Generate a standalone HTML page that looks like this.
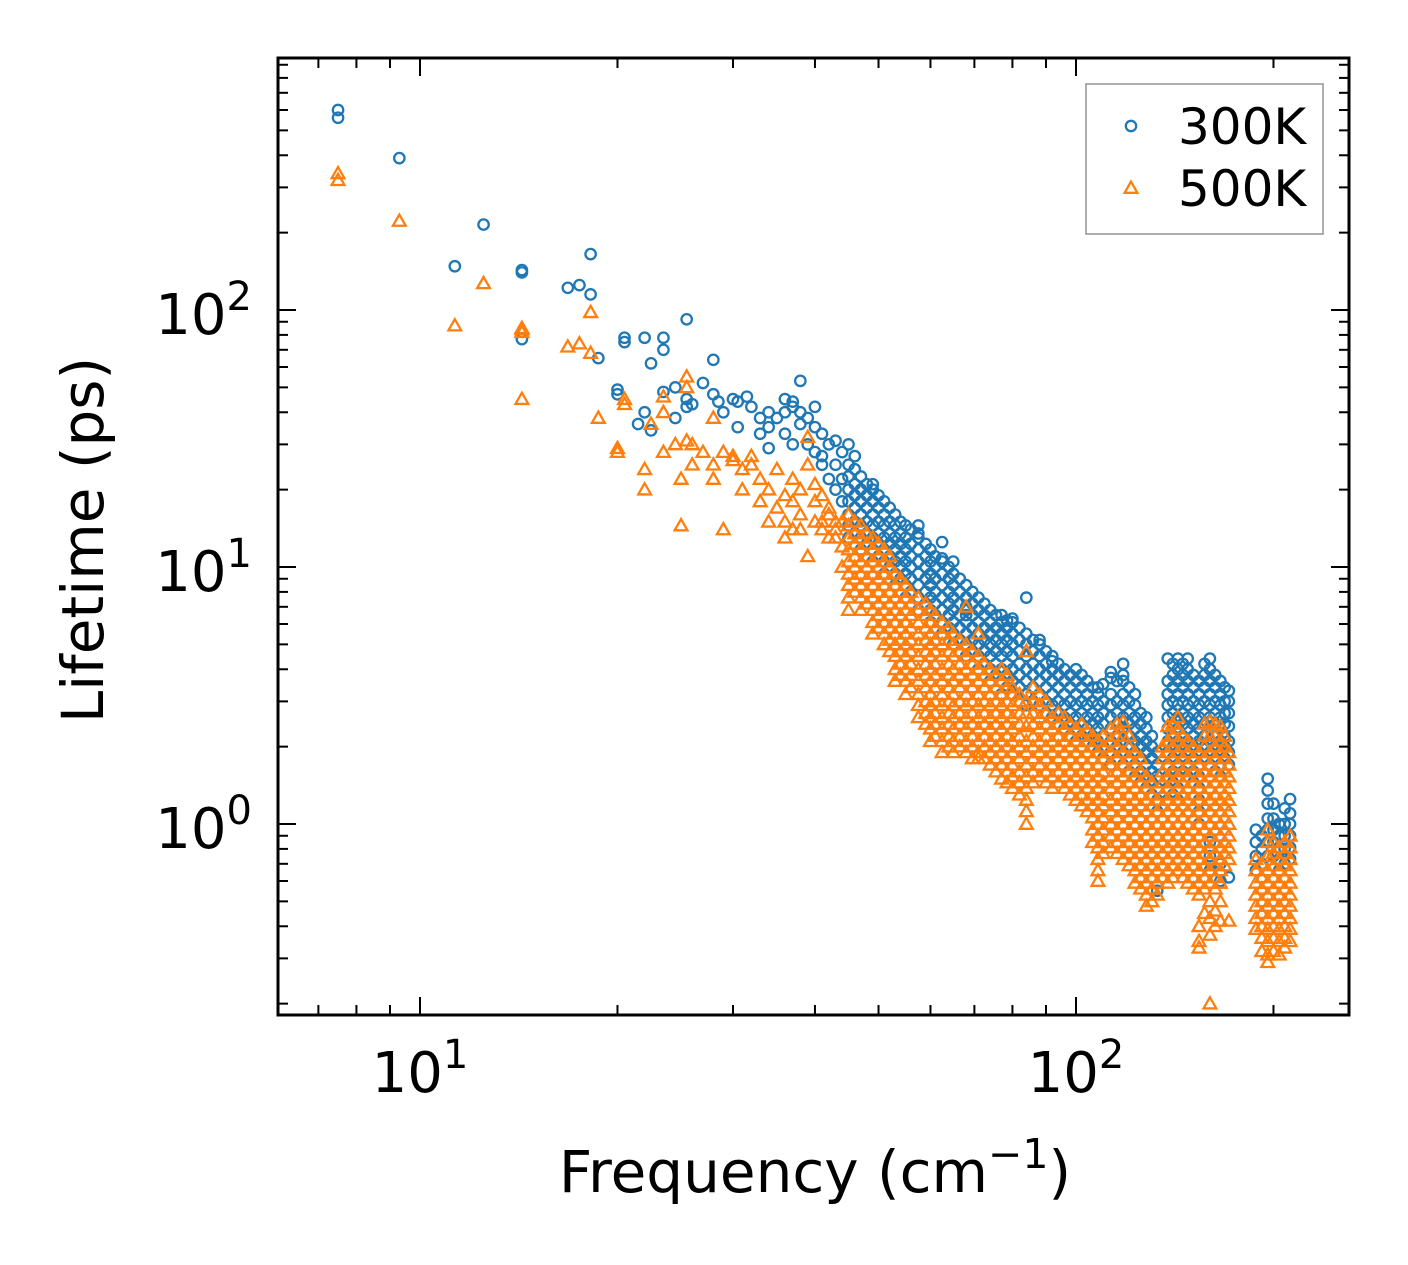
<!DOCTYPE html>
<html><head><meta charset="utf-8">
<style>
html,body{margin:0;padding:0;background:#fff;}
svg{display:block;}
text{font-family:"DejaVu Sans","Liberation Sans",sans-serif;fill:#000;}
</style></head>
<body>
<svg id="chart" width="1408" height="1265" viewBox="0 0 1408 1265" xmlns="http://www.w3.org/2000/svg">
<rect x="0" y="0" width="1408" height="1265" fill="#fff"/>
<g id="marks"></g>
<g id="axes"></g>
</svg>
<script>
const xMajorTicks = [10, 100];
const xMajorLabels = ["1", "2"];
const yMajorTicks = [1, 10, 100];
const yMajorLabels = ["0", "1", "2"];
const seriesNames = ["300K", "500K"];

const blueCols = [
[7.5,[600,560]],[9.3,[390]],[11.3,[148]],[12.5,[215]],[14.3,[140,143,77]],
[16.8,[122]],[17.5,[125]],[18.2,[165,115]],[18.7,[65]],[20,[47,49]],[20.5,[78,75]],
[21.5,[36]],[22,[78,40]],[22.5,[34,62]],[23.5,[48,70,78]],[24.5,[50,38]],[25.5,[92,45,42]],
[26,[43]],[27,[52]],[28,[64,47]],[28.5,[44]],[29,[40]],[30,[45]],[30.5,[35,44]],[31.5,[46]],
[32,[42]],[33,[38,33]],[34,[40,35,29]],[35,[38]],[36,[45,33,40]],[37,[42,44,30]],
[38,[53,36,40]],[39,[38,30]],[40,[42,35,28]],[41,[33,27,25]],[42,[30,22]],[43,[31,25,20]],
[44,[28,22,18]],
[45,[30,25,22.5,20,18,16,14.5,13]],[46,[27,24,21,19,17,15,13.5]],[47,[22.5,20,18,16,14.5,13,11.7]],
[48,[21,19,17,15,13.5,12.3]],
[49,[21,20,18,16,14.5,13,11.7,10.5]],[50,[19,17,15,13.5,12.3,11]],[51,[18,16,14.5,13,11.7,10.5,9.4]],
[52,[17,15,13.5,12.3,11,10]],
[53,[16,14.5,13,11.7,10.5,9.4,8.5]],[54,[15,13.5,12.3,11,10,9]],[55,[14.5,13,11.7,10.5,9.4,8.5,7.6]],
[56,[14,12.3,11,10,9,8]],
[57.5,[14.5,13.5,13,11.7,10.5,9.4,8.5,7.6,6.8]],[59,[12.3,11,10,9,8,7.2]],[60,[11.7,10.5,9.4,8.5,7.6,6.8,6.1]],
[61,[11,10,9,8,7.2,6.5]],
[62.5,[12.5,10.8,10.5,9.4,8.5,7.6,6.8,6.1,5.5]],[64,[10,9,8,7.2,6.5,5.8]],[65,[10.5,9.4,8.5,7.6,6.8,6.1,5.5,5]],
[66.5,[9,8,7.2,6.5,5.8,5.2]],
[68,[8.5,7.6,7,6.8,6.5,6.1,5.5,5,4.5]],[69.5,[8,7.2,6.5,5.8,5.2,4.7]],[71,[7.6,6.8,6.1,5.5,5,4.5,4]],
[72.5,[7.2,6.5,5.8,5.2,4.7,4.2]],
[74,[6.8,6.1,5.5,5,4.5,4,3.6]],[75.5,[6.5,5.8,5.2,4.7,4.2,3.8]],[77,[6.5,6.1,5.5,5,4.5,4,3.6,3.2]],
[78.5,[6.2,5.8,5.2,4.7,4.2,3.8,3.4]],
[80,[6.3,6.1,5.5,5,4.5,4,3.6,3.2]],[82,[5.8,5.2,4.7,4.2,3.8,3.4]],[84,[7.6,5.5,5,4.5,4,3.6,3.2,2.9]],
[86,[5.2,4.7,4.2,3.8,3.4,3.0]],
[88,[5.2,5,4.5,4,3.6,3.2,2.9]],[90,[4.7,4.2,3.8,3.4,3.0,2.7]],[92,[4.5,4.3,4,3.6,3.2,2.9,2.6]],
[94,[4.2,3.8,3.4,3.0,2.7,2.45]],
[96,[4,3.6,3.2,2.9,2.6,2.35]],[98,[3.8,3.4,3.0,2.7,2.45,2.2]],[100,[4,3.6,3.2,2.9,2.6,2.35,2.1]],
[102,[3.8,3.4,3.0,2.7,2.45,2.2]],
[104,[3.6,3.2,2.9,2.6,2.35,2.1]],[106,[3.4,3.0,2.7,2.45,2.2,2.0]],[108,[3.4,3.2,2.9,2.6,2.35,2.1,1.9]],
[110,[3.5,3.0,2.7,2.45,2.2,2.0,1.8]],
[113,[3.9,3.7,3.2,2.9,2.6,2.35,2.1,1.9,1.7]],[115.5,[3.6,3.0,2.7,2.45,2.2,2.0,1.8]],[118,[4.2,3.8,3.6,3.2,2.9,2.6,2.35,2.1,1.9,1.7]],
[120.5,[3.4,3.0,2.7,2.45,2.2,2.0,1.8,1.6]],
[123,[3.2,2.9,2.6,2.35,2.1,1.9,1.7,1.53]],[125.5,[2.7,2.45,2.2,2.0,1.8,1.6,1.45]],[128,[2.6,2.35,2.1,1.9,1.7,1.53,1.38]],
[130.5,[2.2,2.0,1.8,1.6,1.45,1.3]],
[133,[1.9,1.7,1.53,1.38,1.24,1.12,0.55]],
[138,[4.4,3.6,3.2,2.9,2.6,2.35,2.1,1.9,1.7,1.53,1.38,1.24]],
[140.5,[4.2,3.8,3.4,3.0,2.7,2.45,2.2,2.0,1.8,1.6,1.45,1.3]],
[143,[4.4,4,3.6,3.2,2.9,2.6,2.35,2.1,1.9,1.7,1.53,1.38,1.24]],
[145.5,[4.2,3.8,3.4,3.0,2.7,2.45,2.2,2.0,1.8,1.6]],
[148,[4.4,4,3.6,3.2,2.9,2.6,2.35,2.1,1.9,1.7,1.53]],
[151,[3.8,3.4,3.0,2.7,2.45,2.2,2.0,1.8,1.6,1.45]],
[154,[3.6,3.2,2.9,2.6,2.35,2.1,1.9,1.7,1.53,1.38,1.24,1.12,1.0]],
[157,[4.2,3.8,3.4,3.0,2.7,2.45,2.2,2.0,1.8]],
[160,[4.4,4,3.6,3.2,2.9,2.6,2.35,2.1,1.9,1.7,0.85,0.75,0.66]],
[163,[3.8,3.4,3.0,2.7,2.45,2.2,2.0,1.8,1.6]],
[166,[3.6,3.2,2.9,2.6,2.35,2.1,1.9,1.7,1.53,0.7,0.6]],
[168.5,[3.4,3.0,2.7,2.45,2.2,2.0,1.8]],
[171,[3.3,3.0,2.7,2.4,2.1,1.9,1.7,0.62]],
[188,[0.95,0.85,0.75,0.66]],[192,[0.9,0.8,0.7]],[196,[1.5,1.35,1.2,1.05,0.95,0.85,0.75]],
[200,[1.2,1.05,0.95,0.85,0.75]],
[204,[1.0,0.9,0.81,0.73,0.66]],[208,[1.15,1.0,0.9,0.8,0.7]],[212,[1.25,1.1,1.0,0.9,0.81,0.73]]
];

const orangeCols = [
[7.5,[340,320]],[9.3,[222]],[11.3,[87]],[12.5,[127]],[14.3,[85,82,84,45]],
[16.8,[72]],[17.5,[74]],[18.2,[98,68]],[18.7,[38]],[20,[28,29]],[20.5,[45,43]],
[22,[24,20]],[22.5,[36]],[23.5,[46,40,28]],[24.5,[30]],[25,[22,14.5]],[25.5,[55,50,31]],
[26,[30,25]],[27,[28]],[28,[38,25,22]],[29,[28,14]],[30,[27,26]],[31,[24,20]],
[32,[25,27]],[33,[22,18]],[34,[20,15]],[35,[17,24]],[36,[19,13,15]],[37,[22,18,14]],
[38,[20,14,16]],[39,[25,11,32]],[40,[21,18,15]],[41,[19,15,14]],[42,[17,13,16]],
[43,[15,14,13]],[44,[15,12,10]],
[45,[16,14.5,13,11.7,10.5,9.4,8.5,7.6,6.8]],[46,[15,13.5,12.3,11,10,9,8]],[47,[14.5,13,11.7,10.5,9.4,8.5,7.6,6.8]],
[48,[13.5,12.3,11,10,9,8,7.2]],
[49,[13,11.7,10.5,9.4,8.5,7.6,6.8,6.1,5.5]],[50,[12.3,11,10,9,8,7.2,6.5,5.8]],[51,[11.7,10.5,9.4,8.5,7.6,6.8,6.1,5.5,5]],
[52,[11,10,9,8,7.2,6.5,5.8,5.2,4.7]],
[53,[9.4,8.5,7.6,6.8,6.1,5.5,5,4.5,4,3.6]],[54,[9,8,7.2,6.5,5.8,5.2,4.7,4.2,3.8]],[55,[8.5,7.6,6.8,6.1,5.5,5,4.5,4,3.6,3.2]],
[56,[8,7.2,6.5,5.8,5.2,4.7,4.2,3.8,3.4]],
[57.5,[7.6,6.8,6.1,5.5,5,4.5,4,3.6,3.2,2.9,2.6]],
[59,[7.2,6.5,5.8,5.2,4.7,4.2,3.8,3.4,3.0,2.7,2.45]],
[60,[6.8,6.1,5.5,5,4.5,4,3.6,3.2,2.9,2.6,2.35,2.1]],
[61,[6.5,5.8,5.2,4.7,4.2,3.8,3.4,3.0,2.7,2.45,2.2]],
[62.5,[6.1,5.5,5,4.5,4,3.6,3.2,2.9,2.6,2.35,2.1,1.9]],
[64,[5.8,5.2,4.7,4.2,3.8,3.4,3.0,2.7,2.45,2.2,2.0]],
[65,[5.5,5,4.5,4,3.6,3.2,2.9,2.6,2.35,2.1,1.9]],
[66.5,[5.2,4.7,4.2,3.8,3.4,3.0,2.7,2.45,2.2,2.0]],
[68,[7,5,4.5,4,3.6,3.2,2.9,2.6,2.35,2.1,1.9]],
[69.5,[4.7,4.2,3.8,3.4,3.0,2.7,2.45,2.2,2.0,1.8]],
[71,[5.5,4.5,4,3.6,3.2,2.9,2.6,2.35,2.1,1.9,1.8]],
[72.5,[4.2,3.8,3.4,3.0,2.7,2.45,2.2,2.0,1.8]],
[74,[4,3.6,3.2,2.9,2.6,2.35,2.1,1.9,1.7]],
[75.5,[3.8,3.4,3.0,2.7,2.45,2.2,2.0,1.8,1.6]],
[77,[4,3.6,3.2,2.9,2.6,2.35,2.1,1.9,1.7,1.5]],
[78.5,[3.8,3.4,3.0,2.7,2.45,2.2,2.0,1.8,1.6,1.45]],
[80,[3.4,3.2,2.9,2.6,2.35,2.1,1.9,1.7,1.53,1.38]],
[82,[3.2,3.0,2.7,2.45,2.2,2.0,1.8,1.6,1.45,1.3]],
[84,[4.7,3.0,2.7,2.4,2.1,1.9,1.7,1.53,1.38,1.24,1.12,1.0]],
[86,[3.4,3.0,2.7,2.45,2.2,2.0,1.8,1.6,1.45]],
[88,[3.2,2.9,2.6,2.35,2.1,1.9,1.7,1.53]],[90,[3.0,2.7,2.45,2.2,2.0,1.8,1.6,1.45]],
[92,[2.6,2.35,2.1,1.9,1.7,1.53,1.38]],[94,[2.7,2.45,2.2,2.0,1.8,1.6,1.45]],
[96,[2.6,2.35,2.1,1.9,1.7,1.53,1.38]],[98,[2.45,2.2,2.0,1.8,1.6,1.45,1.3]],
[100,[2.35,2.1,1.9,1.7,1.53,1.38,1.24]],[102,[2.45,2.2,2.0,1.8,1.6,1.45,1.3,1.18]],
[104,[2.3,2.1,1.9,1.7,1.53,1.38,1.24,1.12]],[106,[2.2,2.0,1.8,1.6,1.45,1.3,1.18,1.06,0.95,0.85]],
[108,[2.1,1.9,1.7,1.53,1.38,1.24,1.12,1.0,0.9,0.81,0.73,0.66,0.6]],
[110,[2.2,2.0,1.8,1.6,1.45,1.3,1.18,1.06,0.95,0.85,0.77]],
[113,[2.35,2.1,1.9,1.7,1.53,1.38,1.24,1.12,1.0,0.9,0.81]],
[115.5,[2.45,2.2,2.0,1.8,1.6,1.45,1.3,1.18,1.06,0.95,0.85,0.77]],
[118,[2.5,2.2,1.9,1.7,1.53,1.38,1.24,1.12,1.0,0.9,0.81,0.73]],
[120.5,[2.2,2.0,1.8,1.6,1.45,1.3,1.18,1.06,0.95,0.85,0.77,0.69]],
[123,[1.9,1.7,1.53,1.38,1.24,1.12,1.0,0.9,0.81,0.73,0.66,0.59]],
[125.5,[1.8,1.6,1.45,1.3,1.18,1.06,0.95,0.85,0.77,0.69,0.62,0.56]],
[128,[1.53,1.38,1.24,1.12,1.0,0.9,0.81,0.73,0.66,0.59,0.53,0.48]],
[130.5,[1.45,1.3,1.18,1.06,0.95,0.85,0.77,0.69,0.62,0.56,0.5]],
[133,[1.24,1.12,1.0,0.9,0.81,0.73,0.66,0.59,0.53]],
[135.5,[2.0,1.8,1.6,1.45,1.3,1.18,1.06,0.95,0.85,0.77,0.69,0.62]],
[138,[2.4,2.1,1.9,1.7,1.53,1.38,1.24,1.12,1.0,0.9,0.81,0.73,0.66,0.59]],
[140.5,[2.45,2.2,2.0,1.8,1.6,1.45,1.3,1.18,1.06,0.95,0.85,0.77,0.69,0.62]],
[143,[2.6,2.35,2.1,1.9,1.7,1.53,1.38,1.24,1.12,1.0,0.9,0.81,0.73,0.66]],
[145.5,[2.2,2.0,1.8,1.6,1.45,1.3,1.18,1.06,0.95,0.85,0.77,0.69,0.62]],
[148,[2.1,1.9,1.7,1.53,1.38,1.24,1.12,1.0,0.9,0.81,0.73,0.66,0.59]],
[151,[2.0,1.8,1.6,1.45,1.3,1.18,1.06,0.95,0.85,0.77,0.69,0.62,0.56]],
[154,[1.9,1.7,1.53,1.38,1.24,1.12,1.0,0.9,0.81,0.73,0.66,0.59,0.53,0.4,0.35,0.33]],
[157,[2.45,2.2,2.0,1.8,1.6,1.45,1.3,1.18,1.06,0.95,0.85,0.77,0.69,0.62,0.56,0.45]],
[160,[2.5,2.2,1.9,1.7,1.53,1.38,1.24,1.12,1.0,0.9,0.81,0.73,0.66,0.59,0.5,0.43,0.37,0.2]],
[163,[2.45,2.2,2.0,1.8,1.6,1.45,1.3,1.18,1.06,0.95,0.85,0.77,0.69,0.62,0.56,0.46,0.4]],
[166,[2.4,2.1,1.9,1.7,1.53,1.38,1.24,1.12,1.0,0.9,0.81,0.73,0.66,0.59,0.5,0.42]],
[168.5,[2.2,2.0,1.8,1.6,1.45,1.3,1.18,1.06,0.95,0.85,0.77,0.69]],
[171,[1.9,1.7,1.53,1.38,1.24,1.12,1.0,0.9,0.81,0.73,0.42]],
[188,[0.73,0.66,0.59,0.53,0.48,0.43,0.39]],[192,[0.7,0.62,0.56,0.5,0.45,0.4,0.36,0.32]],
[196,[0.95,0.85,0.75,0.66,0.59,0.53,0.48,0.43,0.39,0.35,0.31,0.29]],
[200,[0.85,0.77,0.69,0.62,0.56,0.5,0.45,0.4,0.36,0.32]],
[204,[0.81,0.73,0.66,0.59,0.53,0.48,0.43,0.39,0.35,0.31]],
[208,[0.85,0.77,0.69,0.62,0.56,0.5,0.45,0.4,0.36,0.33]],
[212,[0.9,0.81,0.73,0.66,0.59,0.53,0.48,0.43,0.39,0.35]]
];

const NS = "http://www.w3.org/2000/svg";
const L = 278, R = 1349, T = 58, B = 1015;
function xs(f){ return 420 + 656 * (Math.log10(f) - 1); }
function ys(v){ return 824 - 257 * Math.log10(v); }
const marks = document.getElementById('marks');
const axes = document.getElementById('axes');
function mk(tag, attrs, parent){
  const e = document.createElementNS(NS, tag);
  for (const k in attrs) e.setAttribute(k, attrs[k]);
  parent.appendChild(e); return e;
}
const BLUE = "#1f77b4", ORANGE = "#ff7f0e";
function circle(cx, cy, parent){
  return mk('circle', {cx:cx, cy:cy, r:5.2, fill:'none', stroke:BLUE, 'stroke-width':2.3}, parent);
}
function tri(cx, cy, parent){
  const s = 6.4;
  return mk('polygon', {points:`${cx},${cy-s} ${cx-s},${cy+s*0.75} ${cx+s},${cy+s*0.75}`, fill:'none', stroke:ORANGE, 'stroke-width':2.3, 'stroke-linejoin':'miter'}, parent);
}
const gBlue = mk('g', {}, marks);


blueCols.forEach(col => col[1].forEach(v => {
  const c = circle(xs(col[0]), ys(v), gBlue);
  
  
}));
const gOr = mk('g', {}, marks);


orangeCols.forEach(col => col[1].forEach(v => {
  const p = tri(xs(col[0]), ys(v), gOr);
  
  
}));

const tk = mk('g', {stroke:'#000','stroke-width':2}, axes);


function xtick(f, len){
  const x = xs(f);
  mk('line', {x1:x, y1:B, x2:x, y2:B-len}, tk);
  mk('line', {x1:x, y1:T, x2:x, y2:T+len}, tk);
}
function ytick(v, len){
  const y = ys(v);
  mk('line', {x1:L, y1:y, x2:L+len, y2:y}, tk);
  mk('line', {x1:R, y1:y, x2:R-len, y2:y}, tk);
}
[1,10,100].forEach(d => { for (let m=2;m<=9;m++){ const f=d*m; if (xs(f)>L && xs(f)<R) xtick(f, 10); } });
xMajorTicks.forEach(f => xtick(f, 18));
[0.1,1,10,100].forEach(d => { for (let m=2;m<=9;m++){ const v=d*m; if (ys(v)>T && ys(v)<B) ytick(v, 10); } });
yMajorTicks.forEach(v => ytick(v, 18));

const frame = mk('rect', {x:L, y:T, width:R-L, height:B-T, fill:'none', stroke:'#000', 'stroke-width':3}, axes);



xMajorTicks.forEach((f, i) => {
  const t = mk('text', {x:xs(f), y:1092, 'font-size':56, 'text-anchor':'middle'}, axes);
  
  
  t.innerHTML = '10<tspan font-size="40" dy="-24">' + xMajorLabels[i] + '</tspan>';
});
yMajorTicks.forEach((v, i) => {
  const t = mk('text', {x:252, y:ys(v)+24, 'font-size':56, 'text-anchor':'end'}, axes);
  
  
  t.innerHTML = '10<tspan font-size="40" dy="-24">' + yMajorLabels[i] + '</tspan>';
});

const xt = mk('text', {x:815, y:1192, 'font-size':58, 'text-anchor':'middle'}, axes);


xt.innerHTML = 'Frequency (cm<tspan font-size="41" dy="-24">−1</tspan><tspan dy="24">)</tspan>';
const yt = mk('text', {x:0, y:0, 'font-size':58, 'text-anchor':'middle', transform:'translate(103,540) rotate(-90)'}, axes);


yt.textContent = 'Lifetime (ps)';

const lg = mk('g', {}, axes);


mk('rect', {x:1086, y:84, width:237, height:150, fill:'#fff', stroke:'#999', 'stroke-width':1.6}, lg);
const e1 = mk('g', {}, lg);


circle(1131, 126, e1);
const l1 = mk('text', {x:1178, y:144, 'font-size':50}, e1);
l1.textContent = seriesNames[0];
const e2 = mk('g', {}, lg);


tri(1131, 188, e2);
const l2 = mk('text', {x:1178, y:206, 'font-size':50}, e2);
l2.textContent = seriesNames[1];
</script>
</body></html>
